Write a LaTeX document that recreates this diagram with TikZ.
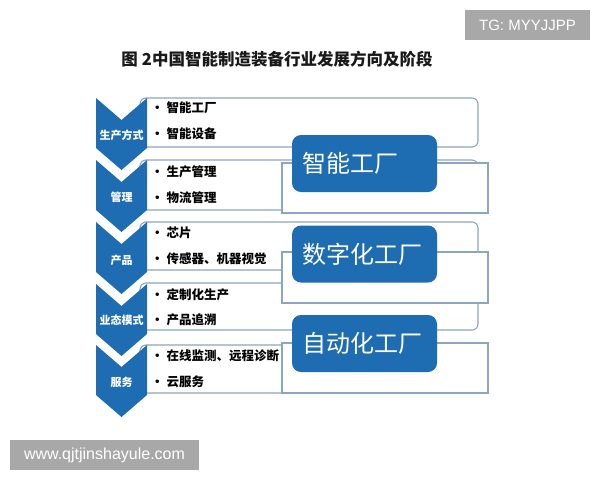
\documentclass[tikz,border=0pt]{standalone}
\usepackage{fontspec}
\newfontfamily\cjk{Noto Sans CJK SC}
\newfontfamily\wmfont{Liberation Sans}
\definecolor{chevblue}{RGB}{30,108,178}
\definecolor{rowline}{RGB}{140,165,192}
\definecolor{wmgray}{RGB}{168,168,168}
\tikzset{
  chev/.style={fill=chevblue},
  rowbox/.style={draw=rowline, line width=1.1pt, fill=white, rounded corners=6pt},
  grpbox/.style={draw=rowline, line width=1.1pt, fill=white},
  chevlab/.style={text=white, inner sep=0pt, font=\cjk\bfseries\fontsize{11}{12}\selectfont},
  itm/.style={anchor=west, inner sep=0pt, font=\cjk\bfseries\fontsize{12.5}{14}\selectfont},
  facbox/.style={fill=chevblue, rounded corners=9pt, minimum width=145pt, minimum height=57pt,
    text width=125pt, inner xsep=10pt, align=left, text=white, font=\cjk\fontsize{24}{28}\selectfont},
  wmark/.style={fill=wmgray, text=white, minimum height=30pt, inner sep=0pt, font=\wmfont\fontsize{15}{17}\selectfont}
}
\begin{document}
\begin{tikzpicture}[x=1pt,y=-1pt]
\useasboundingbox (0,0) rectangle (600,480);
\node[font=\cjk\bfseries\fontsize{16.5}{18}\selectfont, text=black!90] (title) at (277,59) {图\hspace{4pt}2中国智能制造装备行业发展方向及阶段};

% rows
\path[rowbox] (140,98) rectangle (478,147);
\path[rowbox] (140,160) rectangle (478,210);
\path[rowbox] (140,222) rectangle (478,270);
\path[rowbox] (140,283) rectangle (478,330);
\path[rowbox] (140,345) rectangle (478,393);

% chevrons
\fill[chev] (96,98) -- (121.5,120) -- (147,98) -- (147,148) -- (121.5,170) -- (96,148) -- cycle;
\fill[chev] (96,160) -- (121.5,182) -- (147,160) -- (147,210) -- (121.5,232) -- (96,210) -- cycle;
\fill[chev] (96,222) -- (121.5,244) -- (147,222) -- (147,272) -- (121.5,294) -- (96,272) -- cycle;
\fill[chev] (96,284) -- (121.5,306) -- (147,284) -- (147,334) -- (121.5,356) -- (96,334) -- cycle;
\fill[chev] (96,345) -- (121.5,367) -- (147,345) -- (147,395) -- (121.5,417) -- (96,395) -- cycle;
\node[chevlab] (lab1) at (121.5,135) {生产方式};
\node[chevlab] (lab2) at (121.5,197) {管理};
\node[chevlab] (lab3) at (121.5,260) {产品};
\node[chevlab] (lab4) at (121.5,320) {业态模式};
\node[chevlab] (lab5) at (121.5,382) {服务};

% items
\node[itm] (it1a) at (151,108) {\textbullet\hspace{3pt}智能工厂};
\node[itm] (it1b) at (151,134) {\textbullet\hspace{3pt}智能设备};
\node[itm] (it2a) at (151,172) {\textbullet\hspace{3pt}生产管理};
\node[itm] (it2b) at (151,198) {\textbullet\hspace{3pt}物流管理};
\node[itm] (it3a) at (151,233) {\textbullet\hspace{3pt}芯片};
\node[itm] (it3b) at (151,259) {\textbullet\hspace{3pt}传感器、机器视觉};
\node[itm] (it4a) at (151,295) {\textbullet\hspace{3pt}定制化生产};
\node[itm] (it4b) at (151,320) {\textbullet\hspace{3pt}产品追溯};
\node[itm] (it5a) at (151,356) {\textbullet\hspace{3pt}在线监测、远程诊断};
\node[itm] (it5b) at (151,382) {\textbullet\hspace{3pt}云服务};

% factories
\path[grpbox] (282,163) rectangle (488,213);
\path[grpbox] (282,252) rectangle (488,303);
\path[grpbox] (282,343) rectangle (488,393);
\node[facbox] (fac1) at (364.5,163.5) {智能工厂};
\node[facbox] (fac2) at (364.5,254) {数字化工厂};
\node[facbox] (fac3) at (364.5,343.5) {自动化工厂};

\node[wmark, minimum width=125pt] (tg) at (527.5,25) {TG: MYYJJPP};
\node[wmark, minimum width=189pt, font=\wmfont\fontsize{16}{18}\selectfont] (web) at (104.5,455) {www.qjtjinshayule.com};
\end{tikzpicture}
\end{document}
